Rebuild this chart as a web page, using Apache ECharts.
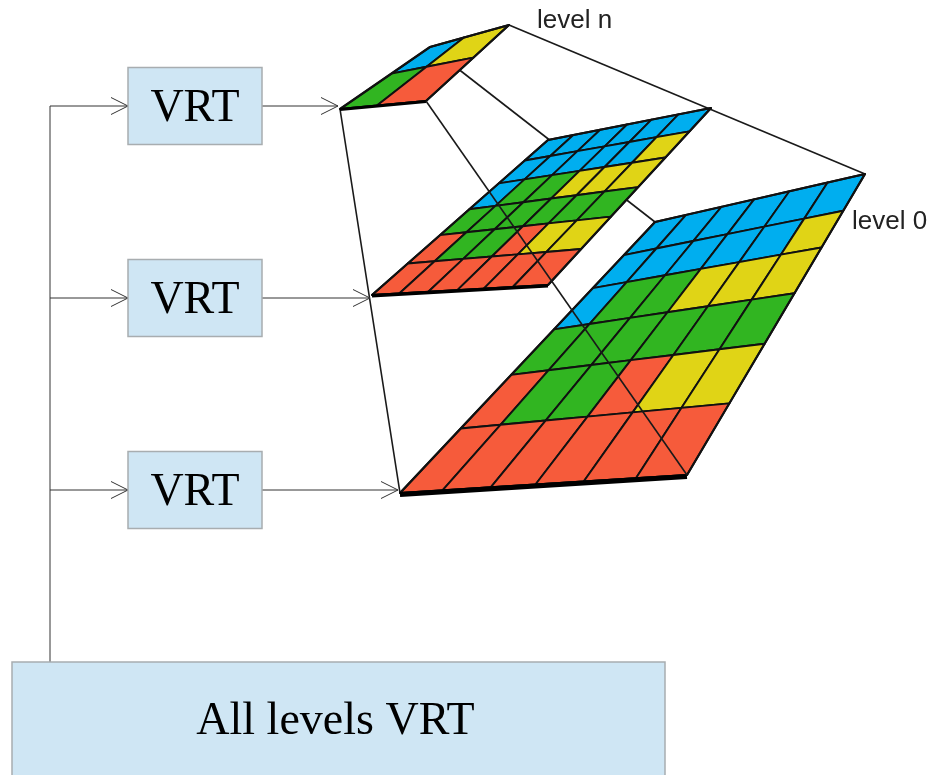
<!DOCTYPE html>
<html><head><meta charset="utf-8">
<script src="https://cdn.jsdelivr.net/npm/echarts@6/dist/echarts.min.js"></script>
<style>html,body{margin:0;padding:0;background:#fff}#c{width:933px;height:775px}</style>
</head><body><div id="c"></div>
<script>
// ---- Diagram data (diagram space: x 0..933, y 0..775 top-down) ----
// Quad corners of each pyramid level: [top-left, top-right, bottom-right, bottom-left]
const level0Corners = [[655,222],[865,174],[687,475],[400,493]];
const level1Corners = [[548,140],[711,108],[548,285],[372,295]];
const levelNCorners = [[430,47],[509,25],[426,101],[340,109]];
// Cell pattern (rows top to bottom) B=blue Y=yellow G=green R=red
const patternLarge = ['BBBBBB','BBBBBY','BGGYYY','GGGGGG','RGGRYY','RRRRRR'];
const patternSmall = ['BY','GR'];
// Fractions of grid lines along each level (columns u, rows v)
const level0Cols = [0,0.148,0.316,0.472,0.64,0.822,1];
const level0Rows = [0,0.122,0.244,0.396,0.564,0.762,1];
const level1Cols = [0,0.155,0.32,0.485,0.635,0.8,1];
const level1Rows = [0,0.132,0.28,0.447,0.614,0.797,1];
const levelNCols = [0,0.43,1];
const levelNRows = [0,0.43,1];
// Level labels
const levelLabels = ['level n','level 0'];
const levelLabelAnchors = [[537,21],[852,222]];
// VRT boxes: arrow row y, box x-range
const vrtLabel = 'VRT';
const vrtRowsY = [106, 298, 490];
const vrtBoxX = [128, 262];
const trunkX = 50;
const trunkEndY = 662;
const allBox = [12, 662, 665, 776];
const allLabel = 'All levels VRT';

const colorMap = {B:'#00aeef', Y:'#e0d416', G:'#31b521', R:'#f65b3b'};

function lerp(a,b,t){return [a[0]+(b[0]-a[0])*t, a[1]+(b[1]-a[1])*t];}
function quadPoint(q,u,v){
  const top=lerp(q[0],q[1],u), bot=lerp(q[3],q[2],u);
  return lerp(top,bot,v);
}
const levels = [
  {corners:level0Corners, pattern:patternLarge, cols:level0Cols, rows:level0Rows, edge:5},
  {corners:level1Corners, pattern:patternLarge, cols:level1Cols, rows:level1Rows, edge:3.5},
  {corners:levelNCorners, pattern:patternSmall, cols:levelNCols, rows:levelNRows, edge:3}
];

const series = [];
// pyramid edge lines (TL, TR, BL under; BR over)
[0,1,3,2].forEach(k=>{
  series.push({type:'line', data:[levelNCorners[k], level0Corners[k]], symbol:'none', silent:true,
    lineStyle:{color:'#1a1a1a', width:1.6}, z: k===2 ? 20 : 1, animation:false});
});
levels.forEach((L,li)=>{
  const cells=[];
  L.pattern.forEach((row,r)=>row.split('').forEach((k,c)=>cells.push({value:[r,c], key:k})));
  series.push({
    type:'custom', z: 3+li*3, animation:false, silent:true,
    data: cells,
    renderItem(params, api){
      const r=api.value(0), c=api.value(1);
      const key=cells[params.dataIndex].key;
      const pts=[[L.cols[c],L.rows[r]],[L.cols[c+1],L.rows[r]],[L.cols[c+1],L.rows[r+1]],[L.cols[c],L.rows[r+1]]]
        .map(p=>api.coord(quadPoint(L.corners,p[0],p[1])));
      return {type:'polygon', shape:{points:pts}, style:{fill:colorMap[key], stroke:'#111', lineWidth:1.9, lineJoin:'round'}};
    }
  });
  series.push({
    type:'custom', z: 4+li*3, animation:false, silent:true,
    data:[[li]],
    renderItem(params, api){
      const pts=L.corners.map(p=>api.coord(p));
      return {type:'group', children:[
        {type:'polygon', shape:{points:pts}, style:{fill:'none', stroke:'#111', lineWidth:2.2, lineJoin:'round'}},
        {type:'line', shape:{x1:pts[3][0], y1:pts[3][1]+L.edge/2-1, x2:pts[2][0], y2:pts[2][1]+L.edge/2-1}, style:{stroke:'#000', lineWidth:L.edge}}
      ]};
    }
  });
});

// arrows
const arrowData = [];
vrtRowsY.forEach((y,i)=>{
  arrowData.push([trunkX, y, vrtBoxX[0], y]);
  const target = [levelNCorners, level1Corners, level0Corners][i][3];
  arrowData.push([vrtBoxX[1], y, target[0]-2, y]);
});
series.push({
  type:'custom', z:25, animation:false, silent:true, data:arrowData,
  renderItem(params, api){
    const a=api.coord([api.value(0),api.value(1)]), b=api.coord([api.value(2),api.value(3)]);
    const dx=b[0]-a[0], dy=b[1]-a[1], len=Math.hypot(dx,dy), ux=dx/len, uy=dy/len;
    const hl=17, hw=8.5;
    const p1=[b[0]-ux*hl-uy*hw, b[1]-uy*hl+ux*hw], p2=[b[0]-ux*hl+uy*hw, b[1]-uy*hl-ux*hw];
    return {type:'group', children:[
      {type:'line', shape:{x1:a[0],y1:a[1],x2:b[0],y2:b[1]}, style:{stroke:'#333', lineWidth:1}},
      {type:'polyline', shape:{points:[p1,b,p2]}, style:{stroke:'#333', lineWidth:1, fill:'none'}}
    ]};
  }
});
// trunk
series.push({type:'line', data:[[trunkX, vrtRowsY[0]],[trunkX, trunkEndY]], symbol:'none', silent:true,
  lineStyle:{color:'#333', width:1}, z:25, animation:false});

// boxes
const boxData = vrtRowsY.map(y=>[vrtBoxX[0], y-38.5, vrtBoxX[1], y+38.5, 0]).concat([[allBox[0],allBox[1],allBox[2],allBox[3],1]]);
series.push({
  type:'custom', z:30, animation:false, silent:true, clip:false, data:boxData,
  renderItem(params, api){
    const a=api.coord([api.value(0),api.value(1)]), b=api.coord([api.value(2),api.value(3)]);
    const label = api.value(4)===1 ? allLabel : vrtLabel;
    return {type:'group', children:[
      {type:'rect', shape:{x:a[0],y:a[1],width:b[0]-a[0],height:b[1]-a[1]}, style:{fill:'#cfe6f4', stroke:'#a8adb0', lineWidth:1.5}},
      {type:'text', style:{text:label, x:(a[0]+b[0])/2 - (api.value(4)===1?3:0), y:(a[1]+b[1])/2+3, align:'center', verticalAlign:'middle',
        font:'46px "Liberation Serif", "Times New Roman", serif', fill:'#000'}}
    ]};
  }
});
// level labels
series.push({
  type:'custom', z:30, animation:false, silent:true, data:levelLabelAnchors.map((p,i)=>[p[0],p[1],i]),
  renderItem(params, api){
    const a=api.coord([api.value(0),api.value(1)]);
    return {type:'text', style:{text:levelLabels[api.value(2)], x:a[0], y:a[1], align:'left', verticalAlign:'middle',
      font:'26px "Liberation Sans", Arial, sans-serif', fill:'#222'}};
  }
});

const chart = echarts.init(document.getElementById('c'));
chart.setOption({
  animation:false,
  grid:{left:0,right:0,top:0,bottom:0},
  xAxis:{type:'value', min:0, max:933, show:false},
  yAxis:{type:'value', min:0, max:775, inverse:true, show:false},
  series
});
</script></body></html>
